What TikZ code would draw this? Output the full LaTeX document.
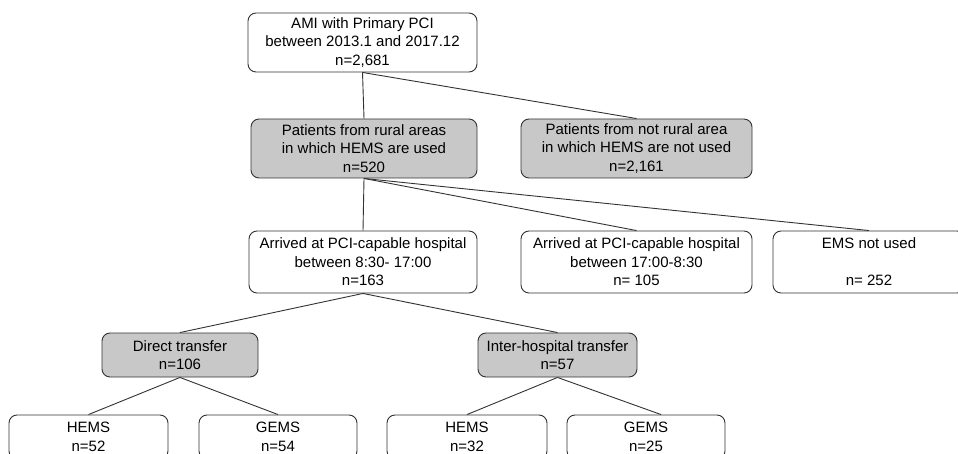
\documentclass[tikz,border=0pt]{standalone}
\usepackage{fontspec}
\setmainfont{Liberation Sans}
\definecolor{boxgray}{RGB}{200,200,200}
\definecolor{edgegray}{RGB}{50,50,50}

\begin{document}
\begin{tikzpicture}[x=1pt, y=-1pt,
    every node/.style={font=\fontsize{15}{18.5}\selectfont, align=center,
      rounded corners=8pt, draw=edgegray, line width=0.9pt, inner sep=0pt},
    whitebox/.style={fill=white},
    graybox/.style={fill=boxgray},
    big/.style={minimum width=#1, minimum height=59pt},
    mid/.style={minimum width=#1, minimum height=62pt},
    small/.style={minimum width=#1, minimum height=44pt},
    link/.style={draw=edgegray, line width=0.9pt}]
  \useasboundingbox (0,0) rectangle (958,454);
  % level 1
  \node[whitebox, big=229pt] (all) at (362.5, 42.5) {AMI with Primary PCI\\between 2013.1 and 2017.12\\n=2,681};
  % level 2
  \node[graybox, big=226pt] (rural) at (364, 148.5) {Patients from rural areas\\in which HEMS are used\\n=520};
  \node[graybox, big=231pt] (notrural) at (636.5, 148.5) {Patients from not rural area\\in which HEMS are not used\\n=2,161};
  % level 3
  \node[whitebox, mid=228pt] (day) at (363, 262) {Arrived at PCI-capable hospital\\between 8:30- 17:00\\n=163};
  \node[whitebox, mid=231pt] (night) at (636.5, 262) {Arrived at PCI-capable hospital\\between 17:00-8:30\\n= 105};
  \node[whitebox, mid=192pt] (noems) at (869, 262) {EMS not used\\\mbox{}\\n= 252};
  % level 4
  \node[graybox, small=156pt] (direct) at (180, 355) {Direct transfer\\n=106};
  \node[graybox, small=159pt] (inter) at (557.5, 355) {Inter-hospital transfer\\n=57};
  % level 5
  \node[whitebox, small=159pt] (hemsA) at (88.5, 437) {HEMS\\n=52};
  \node[whitebox, small=158pt] (gemsA) at (278, 437) {GEMS\\n=54};
  \node[whitebox, small=160pt] (hemsB) at (467, 437) {HEMS\\n=32};
  \node[whitebox, small=158pt] (gemsB) at (646, 437) {GEMS\\n=25};

  \draw[link] (all.south) -- (rural.north);
  \draw[link] (all.south) -- (notrural.north);
  \draw[link] (rural.south) -- (day.north);
  \draw[link] (rural.south) -- (night.north);
  \draw[link] (rural.south) -- (noems.north);
  \draw[link] (day.south) -- (direct.north);
  \draw[link] (day.south) -- (inter.north);
  \draw[link] (direct.south) -- (hemsA.north);
  \draw[link] (direct.south) -- (gemsA.north);
  \draw[link] (inter.south) -- (hemsB.north);
  \draw[link] (inter.south) -- ([xshift=15pt]gemsB.north);
\end{tikzpicture}
\end{document}
